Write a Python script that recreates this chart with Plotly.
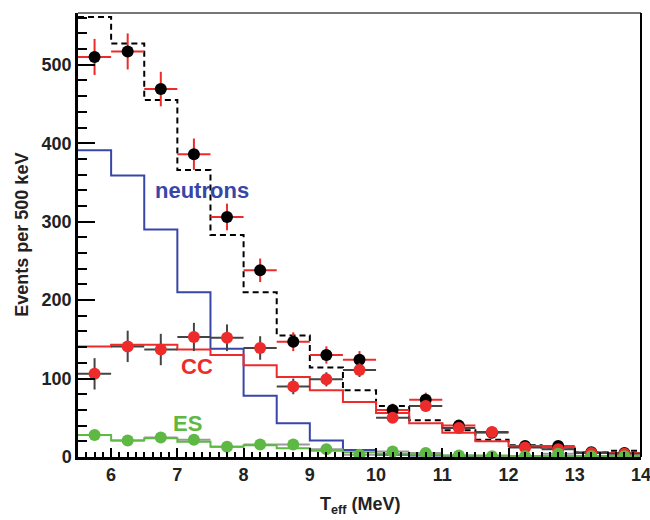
import plotly.graph_objects as go

# ---- data -------------------------------------------------------------
bin_edges = [5.5, 6.0, 6.5, 7.0, 7.5, 8.0, 8.5, 9.0, 9.5, 10.0, 10.5, 11.0,
             11.5, 12.0, 12.5, 13.0, 13.5, 14.0]
bin_centers = [5.75, 6.25, 6.75, 7.25, 7.75, 8.25, 8.75, 9.25, 9.75, 10.25,
               10.75, 11.25, 11.75, 12.25, 12.75, 13.25, 13.75]
bin_halfwidth = 0.25

data_total = [510, 517, 469, 386, 306, 238, 147, 130, 124, 60, 73, 40, 31, 14, 14, 6, 5]
data_total_err = [23, 23, 22, 20, 17, 15, 12, 11, 11, 8, 9, 6, 6, 4, 4, 2, 2]

cc_points = [106, 141, 137, 153, 152, 139, 90, 99, 111, 50, 65, 37, 32, 12, 10, 5, 4]
cc_err = [20, 20, 20, 18, 17, 15, 10, 9, 9, 6, 7, 6, 5, 4, 4, 3, 3]

es_points = [28, 21, 25, 22, 13, 16, 16, 10, 3, 7, 5, 2, 1, 1, 4, 1, 1]
es_err = [5, 5, 5, 5, 4, 4, 4, 4, 3, 3, 3, 2, 2, 2, 2, 2, 2]

mc_total = [561, 527, 455, 366, 283, 210, 155, 114, 85, 65, 47, 34, 22, 15, 12, 6, 8]
mc_neutrons = [391, 359, 290, 210, 138, 78, 43, 21, 9, 3, 2, 1, 1, 1, 0.5, 0.5, 0.5]
mc_cc = [141, 143, 143, 137, 130, 117, 102, 85, 70, 56, 43, 31, 20, 14, 12, 5, 5]
mc_es = [28, 21, 24, 19.5, 13, 15, 11, 8, 6, 4, 3, 2, 2, 1, 1, 1, 1]

x_tick_vals = [6, 7, 8, 9, 10, 11, 12, 13, 14]

x_title = "T<sub>eff</sub> (MeV)"
y_title = "Events per 500 keV"

labels = [("neutrons", 7.37, 340, "#3846a8"),
          ("CC", 7.29, 115, "#ee2b2b"),
          ("ES", 7.16, 43, "#5db844")]

RED = "#ee2b2b"
BLUE = "#3846a8"
GREEN = "#5db844"
FONT = "Liberation Sans"
TXT = "#222222"

fig = go.Figure()


def hist(vals, color, dash="solid", width=2):
    fig.add_trace(go.Scatter(
        x=bin_edges, y=list(vals) + [vals[-1]], mode="lines",
        line=dict(shape="hv", color=color, width=width, dash=dash),
        showlegend=False, hoverinfo="skip"))


hist(mc_total, "black", dash="6px,4px", width=2)
hist(mc_neutrons, BLUE, width=2)
hist(mc_cc, RED, width=2)

# ES error bars (under the green histogram)
fig.add_trace(go.Scatter(
    x=bin_centers, y=es_points, mode="markers",
    marker=dict(color="rgba(0,0,0,0)", size=1),
    error_x=dict(type="constant", value=bin_halfwidth, color="#999999", thickness=2, width=0),
    error_y=dict(type="data", array=es_err, color="#999999", thickness=2, width=0),
    showlegend=False, hoverinfo="skip"))

hist(mc_es, GREEN, width=2)

fig.add_trace(go.Scatter(
    x=bin_centers, y=data_total, mode="markers",
    marker=dict(color="black", size=12),
    error_x=dict(type="constant", value=bin_halfwidth, color=RED, thickness=2, width=0),
    error_y=dict(type="data", array=data_total_err, color=RED, thickness=2, width=0),
    showlegend=False))

fig.add_trace(go.Scatter(
    x=bin_centers, y=cc_points, mode="markers",
    marker=dict(color=RED, size=12),
    error_x=dict(type="constant", value=bin_halfwidth, color="#444444", thickness=2, width=0),
    error_y=dict(type="data", array=cc_err, color="#444444", thickness=2, width=0),
    showlegend=False))

fig.add_trace(go.Scatter(
    x=bin_centers, y=es_points, mode="markers",
    marker=dict(color=GREEN, size=12),
    showlegend=False))

for text, x, y, col in labels:
    fig.add_annotation(x=x, y=y, text=text, showarrow=False,
                       font=dict(family=FONT, size=22, color=col, weight="bold"))

# axis titles
fig.add_annotation(xref="paper", yref="paper", x=0.5, y=-0.11, text=x_title,
                   showarrow=False, xanchor="center", yanchor="middle",
                   font=dict(family=FONT, size=18, weight="bold", color=TXT))
fig.add_annotation(xref="paper", yref="paper", x=-0.1, y=0.5, text=y_title,
                   showarrow=False, xanchor="center", yanchor="middle", textangle=-90,
                   font=dict(family=FONT, size=18, weight="bold", color=TXT))

fig.update_layout(
    width=650, height=520,
    margin=dict(l=78, r=9, t=13, b=63),
    plot_bgcolor="white", paper_bgcolor="white",
    font=dict(family=FONT, color=TXT),
    xaxis=dict(
        range=[5.5, 14], tickmode="array", tickvals=x_tick_vals,
        automargin=False,
        ticks="inside", ticklen=9, tickwidth=2, tickcolor="black",
        ticklabeloverflow="allow",
        minor=dict(ticks="inside", ticklen=5, tickwidth=1.5, tickcolor="black", dtick=0.125),
        showline=True, linecolor="black", linewidth=2.5, showgrid=False, zeroline=False,
        tickfont=dict(family=FONT, size=18, weight="bold", color=TXT),
    ),
    yaxis=dict(
        range=[0, 566], dtick=100, ticks="inside", ticklen=17, tickwidth=2, tickcolor="black",
        automargin=False,
        minor=dict(ticks="inside", ticklen=9, tickwidth=1.5, tickcolor="black", dtick=20),
        showline=True, linecolor="black", linewidth=2.5, showgrid=False, zeroline=False,
        tickfont=dict(family=FONT, size=18, weight="bold", color=TXT),
    ),
)

# frame: grey top, black right
fig.add_shape(type="line", xref="paper", yref="paper", x0=0, x1=1, y0=1, y1=1,
              line=dict(color="#777777", width=2))
fig.add_shape(type="line", xref="paper", yref="paper", x0=1, x1=1, y0=0, y1=1,
              line=dict(color="black", width=2))

fig.write_html("out.html")
